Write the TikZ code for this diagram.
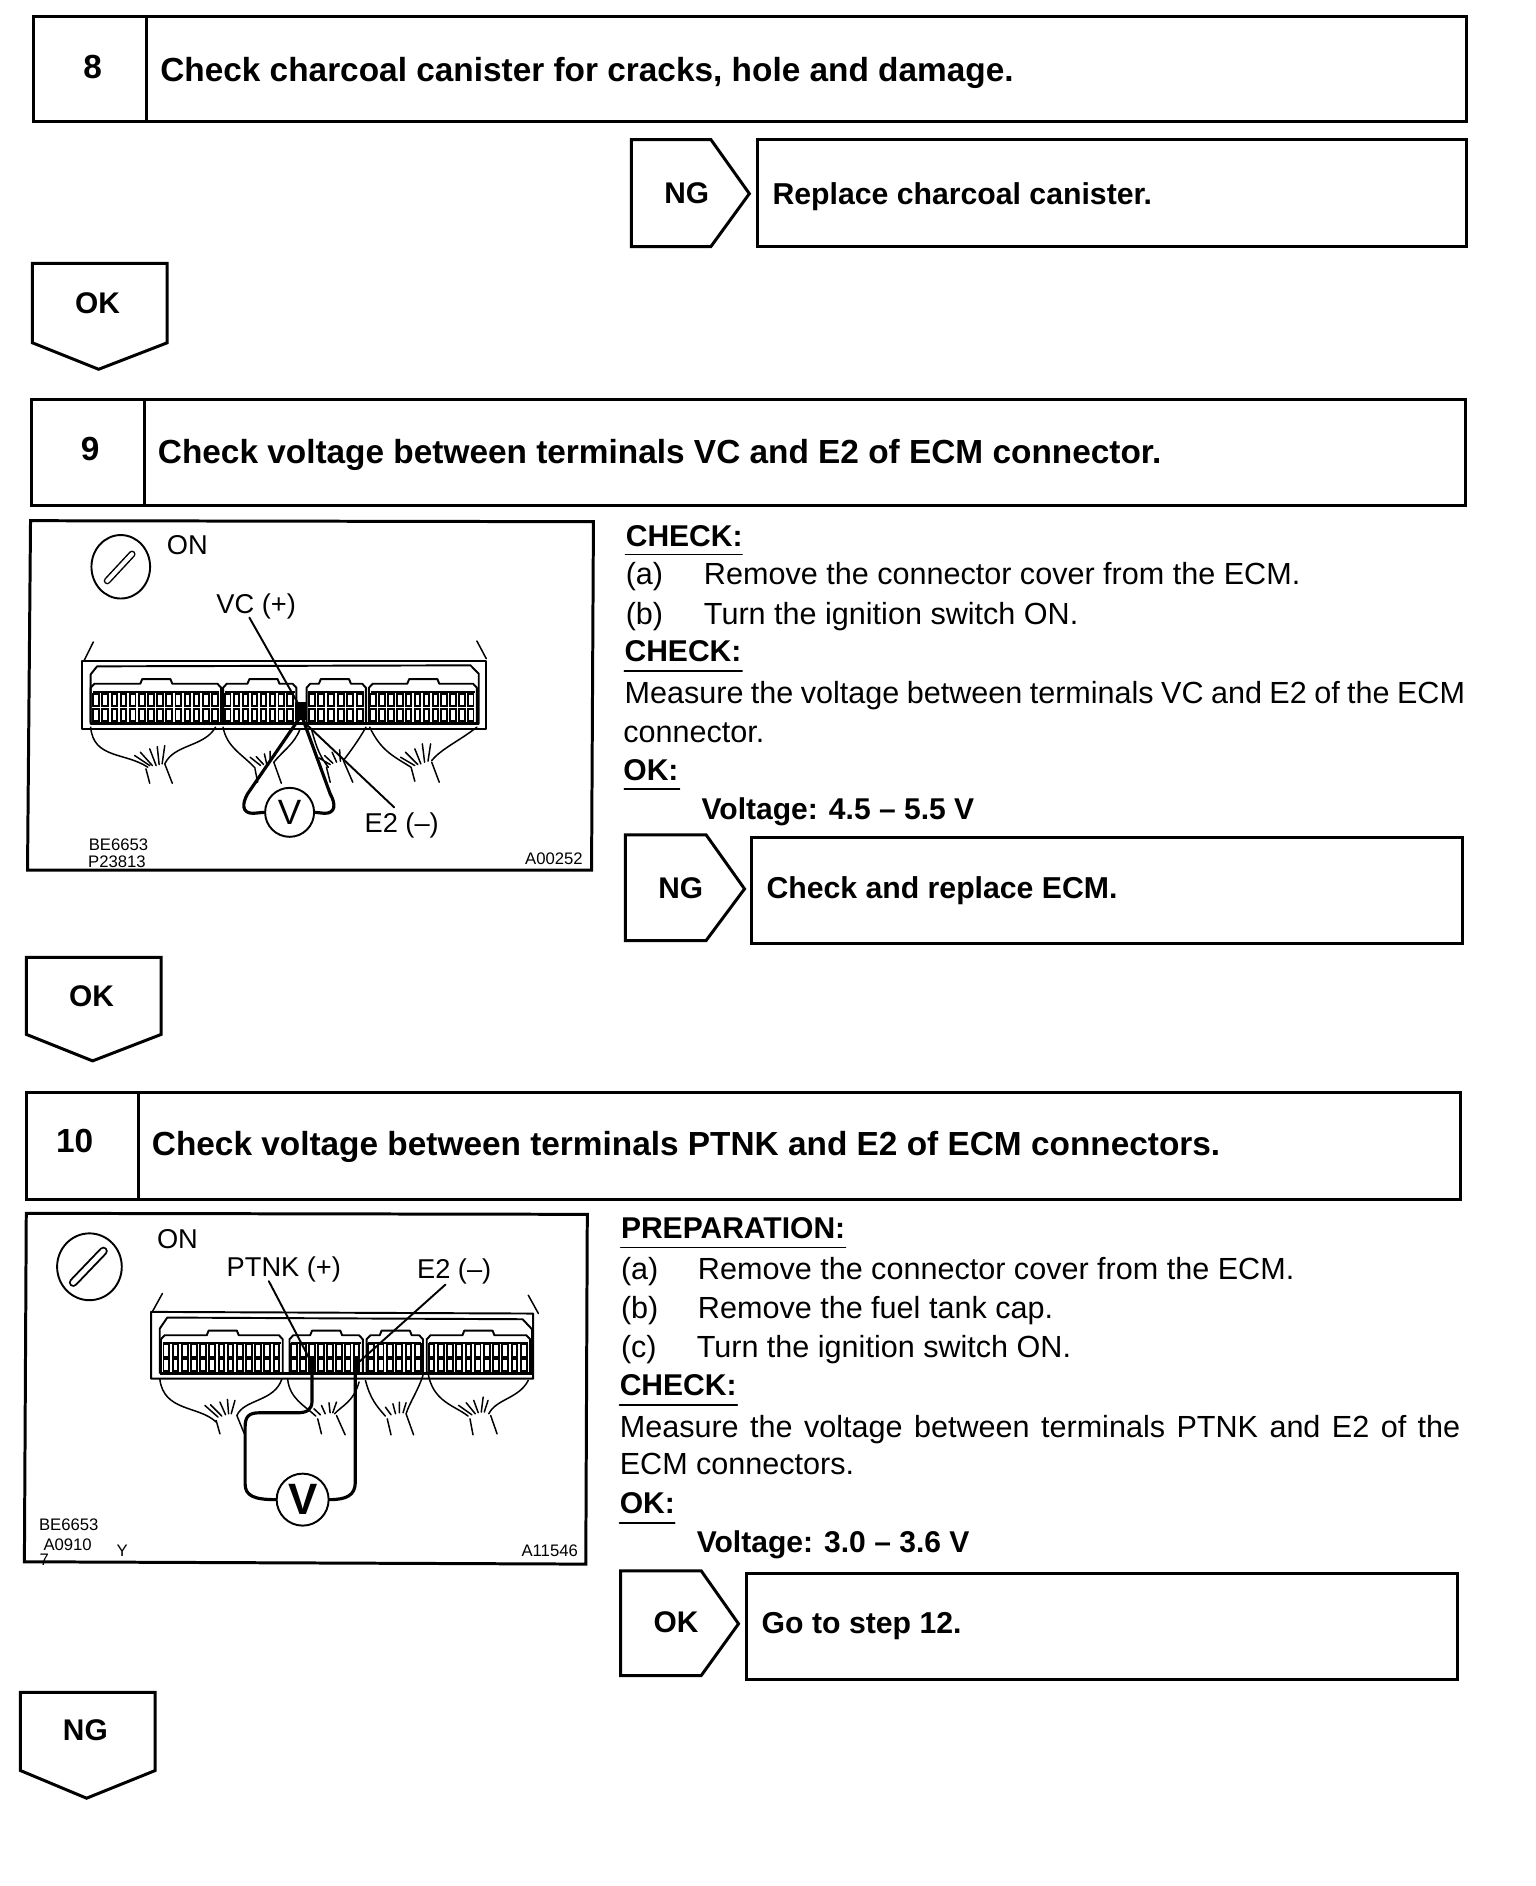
\documentclass[tikz,border=0pt]{standalone}
\usepackage{fontspec}
\setmainfont{Liberation Sans}
\newcommand{\pinrow}[5]{\foreach \i in {1,...,#5}{\pgfmathsetmacro\xa{#1+(\i-1)*(#2-#1)/#5}\pgfmathsetmacro\xb{\xa+0.62*(#2-#1)/#5}\draw[pinbox] (\xa,#3) rectangle (\xb,#4);}}
\newcommand{\blockout}[5]{\draw[blockline] (#1,#4) -- (#1,#3+12) -- (#1+10,#3) -- (#5,#3) -- (#5+5,#3-14) -- (#5+80,#3-14) -- (#5+85,#3) -- (#2-10,#3) -- (#2,#3+12) -- (#2,#4);
 \draw[blockline] (#1+5,#3+24) -- (#2-5,#3+24);}
\tikzset{
 boxline/.style={line width=1.7pt,line join=miter},
 thinline/.style={line width=.85pt,line cap=round},
 thickwire/.style={line width=1.8pt,line cap=round,line join=round},
 pinbox/.style={line width=1.1pt,fill=white},
 blockline/.style={line width=1.1pt,line join=round},
 lab/.style={font=\fontsize{17.4}{20}\selectfont,inner sep=0pt,text height=12.3pt,text depth=0pt},
 txt/.style={lab,anchor=west},
 head/.style={txt,font=\fontsize{19}{22}\selectfont\bfseries,text height=13.6pt},
 res/.style={txt,font=\fontsize{17.2}{20}\selectfont\bfseries},
 ctr/.style={lab,anchor=center,font=\fontsize{17}{20}\selectfont\bfseries},
 num/.style={lab,anchor=center,font=\fontsize{19}{22}\selectfont\bfseries,text height=13.6pt},
 ulabel/.style={txt,font=\fontsize{17.1}{20}\selectfont\bfseries},
 dlab/.style={lab,anchor=center,font=\fontsize{15.5}{18}\selectfont,text height=11pt},
 small/.style={lab,anchor=center,font=\fontsize{9.5}{11}\selectfont,text height=6.8pt},
 meter/.style={circle,draw,line width=1.1pt,inner sep=0pt,fill=white,font=\fontsize{20}{20}\selectfont},
}
\begin{document}
\begin{tikzpicture}[x=0.024056cm,y=-0.024056cm]
\useasboundingbox (0,0) rectangle (1277,1568);
\fill[white] (0,0) rectangle (1277,1568);
% step 8
\draw[boxline] (28,14) rectangle (1219,101);
\draw[boxline] (122,14) -- (122,101);
\node[num] (n8) at (77,55) {8};
\node[head] (t8) at (133,58) {Check charcoal canister for cracks, hole and damage.};
\draw[boxline] (525,116) -- (591,116) -- (623,161) -- (591,205) -- (525,205) -- cycle;
\node[ctr] (ng8) at (571,160) {NG};
\draw[boxline] (630,116) rectangle (1219,205);
\node[res] (r8) at (642,161) {Replace charcoal canister.};
\draw[boxline] (27,219) -- (139,219) -- (139,285) -- (82,307) -- (27,285) -- cycle;
\node[ctr] (ok8) at (81,252) {OK};
% step 9
\draw[boxline] (26,332) rectangle (1218,420);
\draw[boxline] (120,332) -- (120,420);
\node[num] (n9) at (75,373) {9};
\node[head] (t9) at (131,375) {Check voltage between terminals VC and E2 of ECM connector.};
\node[ulabel] (c9a) at (520,445) {CHECK:};
\draw[thinline] (520,461) -- (617,461);
\node[txt] (a9l) at (520,477) {(a)};
\node[txt] (a9) at (585,477) {Remove the connector cover from the ECM.};
\node[txt] (b9l) at (520,510) {(b)};
\node[txt] (b9) at (585,510) {Turn the ignition switch ON.};
\node[ulabel] (c9b) at (519,541) {CHECK:};
\draw[thinline] (519,558) -- (617,558);
\node[txt] (m9) at (519,576) {\makebox[16.815cm][s]{Measure the voltage between terminals VC and E2 of the ECM}};
\node[txt] (m9b) at (518,608) {connector.};
\node[ulabel] (o9) at (518,640) {OK:};
\draw[thinline] (519,656) -- (565,656);
\node[ulabel] (v9) at (583,672) {Voltage: 4.5 -- 5.5 V};
\draw[boxline] (520,694) -- (587,694) -- (619,739) -- (587,782) -- (520,782) -- cycle;
\node[ctr] (ng9) at (566,738) {NG};
\draw[boxline] (625,696) rectangle (1216,784);
\node[res] (r9) at (637,738) {Check and replace ECM.};
\draw[boxline] (22,796) -- (134,796) -- (134,860) -- (77,882) -- (22,860) -- cycle;
\node[ctr] (ok9) at (76,828) {OK};
% diagram 1
\begin{scope}[shift={(16.63,424.0)},x=0.00752cm,y=-0.00669cm]
\draw[boxline] (28,32) -- (1525,35) -- (1520,1078) -- (20,1078) -- cycle;
\draw[line width=1.1pt] (268,170) ellipse [x radius=78,y radius=95];
\draw[line width=4pt,line cap=round] (232,212) -- (298,132);
\draw[line width=2.3pt,line cap=round,white] (232,212) -- (298,132);
\node[dlab] (on1) at (445,105) {ON};
\node[dlab] (vc1) at (628,280) {VC (+)};
\node[dlab] (e21) at (1015,935) {E2 (--)};
\node[small] (be1) at (262,1000) {BE6653};
\node[small] (p21) at (258,1052) {P23813};
\node[small] (a01) at (1420,1042) {A00252};
% connector
\draw[blockline] (165,655) -- (165,452) -- (1240,452) -- (1240,655) -- cycle;
\draw[thinline] (195,395) -- (170,452) (1215,392) -- (1240,445);
\draw[blockline] (188,640) -- (188,492) -- (205,468) -- (1198,465) -- (1220,490) -- (1220,640) -- cycle;
\blockout{188}{535}{520}{635}{320}
\blockout{540}{735}{520}{635}{605}
\blockout{762}{920}{520}{635}{795}
\blockout{928}{1215}{520}{635}{1030}
\pinrow{195}{535}{552}{588}{14}
\pinrow{195}{535}{597}{632}{14}
\pinrow{545}{735}{552}{588}{8}
\pinrow{545}{735}{597}{632}{8}
\pinrow{768}{922}{552}{588}{6}
\pinrow{768}{922}{597}{632}{6}
\pinrow{932}{1215}{552}{588}{12}
\pinrow{932}{1215}{597}{632}{12}
\draw[line width=1.6pt] (188,640) -- (1220,640);
% harnesses
\draw[thinline] (188,650) .. controls (195,745) and (280,725) .. (340,770) (520,650) .. controls (490,710) and (410,700) .. (385,760)
 (335,775) -- (345,818) (385,760) -- (405,818) (305,735) -- (345,765) (320,725) -- (352,765) (345,715) -- (362,765) (365,708) -- (370,762) (385,705) -- (378,760);
\draw[thinline] (540,650) .. controls (550,710) and (590,730) .. (625,772) (745,655) .. controls (730,700) and (700,720) .. (675,755)
 (625,775) -- (632,815) (675,755) -- (695,818) (612,740) -- (640,765) (628,738) -- (648,762) (650,730) -- (656,760) (665,722) -- (665,755);
\draw[thinline] (775,655) .. controls (790,720) and (800,740) .. (820,770) (920,650) .. controls (900,690) and (880,720) .. (860,750)
 (815,770) -- (825,815) (860,750) -- (885,815) (795,742) -- (825,762) (810,735) -- (832,758) (830,725) -- (842,755) (850,718) -- (852,752);
\draw[thinline] (930,650) .. controls (960,720) and (990,735) .. (1040,770) (1215,650) .. controls (1170,690) and (1120,715) .. (1095,750)
 (1040,770) -- (1050,812) (1095,755) -- (1115,815) (1012,740) -- (1050,765) (1025,725) -- (1058,762) (1050,715) -- (1066,760) (1070,700) -- (1076,755) (1092,700) -- (1085,752);
% probes
\fill (732,575) rectangle (760,630);
\node[meter,minimum size=0.98cm] (vm1) at (717,905) {V};
\coordinate (p1a) at (742,625);
\coordinate (p1b) at (752,625);
\coordinate (l1a) at (610,322);
\coordinate (l1b) at (745,590);
\coordinate (l2a) at (760,640);
\coordinate (l2b) at (995,890);
\draw[thickwire] (vm1.west) -- (620,908) .. controls (590,908) and (590,880) .. (605,850) -- (p1a);
\draw[thickwire] (vm1.east) -- (810,908) .. controls (840,908) and (840,880) .. (825,850) -- (p1b);
\draw[thinline,line width=1.1pt] (l1a) -- (l1b);
\draw[thinline,line width=1.1pt] (l2a) -- (l2b);
\end{scope}
% step 10
\draw[boxline] (22,908) rectangle (1214,997);
\draw[boxline] (115,908) -- (115,997);
\node[num] (n10) at (62,948) {10};
\node[head] (t10) at (126,951) {Check voltage between terminals PTNK and E2 of ECM connectors.};
\node[ulabel] (p10) at (516,1021) {PREPARATION:};
\draw[thinline] (516,1037) -- (703,1037);
\node[txt] (a10l) at (516,1055) {(a)};
\node[txt] (a10) at (580,1055) {Remove the connector cover from the ECM.};
\node[txt] (b10l) at (516,1087) {(b)};
\node[txt] (b10) at (580,1087) {Remove the fuel tank cap.};
\node[txt] (c10l) at (516,1120) {(c)};
\node[txt] (c10) at (579,1120) {Turn the ignition switch ON.};
\node[ulabel] (c10b) at (515,1151) {CHECK:};
\draw[thinline] (515,1168) -- (613,1168);
\node[txt] (m10) at (515,1186) {\makebox[16.815cm][s]{Measure the voltage between terminals PTNK and E2 of the}};
\node[txt] (m10b) at (515,1217) {ECM connectors.};
\node[ulabel] (o10) at (515,1249) {OK:};
\draw[thinline] (515,1266) -- (561,1266);
\node[ulabel] (v10) at (579,1282) {Voltage: 3.0 -- 3.6 V};
\draw[boxline] (516,1306) -- (583,1306) -- (614,1350) -- (583,1393) -- (516,1393) -- cycle;
\node[ctr] (ok10) at (562,1348) {OK};
\draw[boxline] (621,1308) rectangle (1212,1396);
\node[res] (r10) at (633,1349) {Go to step 12.};
\draw[boxline] (17,1407) -- (129,1407) -- (129,1472) -- (72,1495) -- (17,1472) -- cycle;
\node[ctr] (ng10) at (71,1438) {NG};
% diagram 2
\begin{scope}[shift={(12.47,1001.8)},x=0.00752cm,y=-0.00669cm]
\draw[boxline] (30,25) -- (1522,28) -- (1518,1075) -- (25,1068) -- cycle;
\draw[line width=1.1pt] (198,185) ellipse [x radius=86,y radius=100];
\draw[line width=5pt,line cap=round] (155,232) -- (235,138);
\draw[line width=2.8pt,line cap=round,white] (155,232) -- (235,138);
\node[dlab] (on2) at (432,100) {ON};
\node[dlab] (pt2) at (715,185) {PTNK (+)};
\node[dlab] (e22) at (1168,190) {E2 (--)};
\node[small] (be2) at (143,955) {BE6653};
\node[small] (a92) at (140,1015) {A0910};
\node[small] (s72) at (78,1060) {7};
\node[small] (y2) at (285,1035) {Y};
\node[small] (a12) at (1422,1035) {A11546};
% connector
\draw[blockline] (362,520) -- (362,320) -- (1378,325) -- (1378,520) -- cycle;
\draw[thinline] (392,265) -- (365,320) (1365,270) -- (1392,325);
\draw[blockline] (385,505) -- (385,370) -- (405,337) -- (1350,342) -- (1375,372) -- (1375,505);
\blockout{388}{712}{390}{500}{510}
\blockout{730}{925}{390}{500}{785}
\blockout{935}{1085}{390}{500}{970}
\blockout{1095}{1370}{390}{500}{1190}
\pinrow{395}{712}{417}{455}{13}
\pinrow{395}{712}{462}{496}{13}
\pinrow{735}{925}{417}{455}{8}
\pinrow{735}{925}{462}{496}{8}
\pinrow{940}{1088}{417}{455}{6}
\pinrow{940}{1088}{462}{496}{6}
\pinrow{1100}{1370}{417}{455}{11}
\pinrow{1100}{1370}{462}{496}{11}
\draw[line width=1.6pt] (385,505) -- (1375,505);
% harnesses
\draw[thinline] (385,520) .. controls (395,620) and (490,600) .. (535,650) (710,520) .. controls (690,590) and (610,580) .. (590,630)
 (535,645) -- (545,685) (590,630) -- (610,685) (505,600) -- (540,635) (520,598) -- (550,632) (545,590) -- (560,628) (565,582) -- (568,625) (585,585) -- (575,625);
\draw[thinline] (725,520) .. controls (730,580) and (770,600) .. (800,632) (915,530) .. controls (900,590) and (870,600) .. (850,625)
 (805,640) -- (815,685) (855,630) -- (878,688) (795,610) -- (812,628) (815,600) -- (825,625) (835,592) -- (838,622) (855,590) -- (845,622);
\draw[thinline] (932,525) .. controls (945,580) and (960,600) .. (985,632) (1085,510) .. controls (1070,560) and (1050,590) .. (1040,625)
 (990,640) -- (1000,688) (1040,625) -- (1060,688) (985,605) -- (1000,628) (1005,595) -- (1012,625) (1022,590) -- (1022,622) (1040,592) -- (1032,622);
\draw[thinline] (1098,500) .. controls (1110,590) and (1170,600) .. (1205,632) (1365,525) .. controls (1340,580) and (1280,580) .. (1260,625)
 (1210,640) -- (1218,688) (1265,630) -- (1282,685) (1180,600) -- (1215,628) (1200,592) -- (1224,625) (1220,585) -- (1232,622) (1245,575) -- (1240,620) (1258,585) -- (1248,620);
% probes
\fill (780,455) rectangle (798,495);
\fill (898,460) rectangle (916,500);
\node[meter,minimum size=1.04cm,font=\fontsize{25}{25}\selectfont\bfseries] (vm2) at (765,882) {V};
\coordinate (q1) at (790,475);
\coordinate (q2) at (905,480);
\coordinate (l3a) at (675,228);
\coordinate (l4a) at (1145,238);
\draw[thickwire] (q1) -- (790,585) .. controls (790,615) and (775,622) .. (750,622) -- (650,622) .. controls (620,622) and (612,635) .. (612,665) -- (612,835) .. controls (612,870) and (635,882) .. (vm2.west);
\draw[thickwire] (q2) -- (905,830) .. controls (905,870) and (880,882) .. (vm2.east);
\draw[thinline,line width=1.1pt] (l3a) -- (q1);
\draw[thinline,line width=1.1pt] (l4a) -- (q2);
\end{scope}
\end{tikzpicture}
\end{document}
